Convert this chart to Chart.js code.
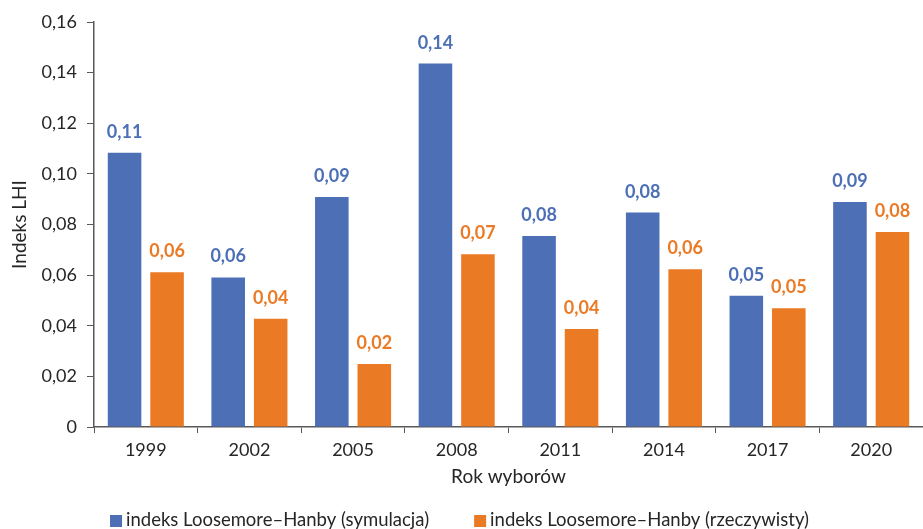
<!DOCTYPE html>
<html>
<head>
<meta charset="utf-8">
<script src="https://cdn.jsdelivr.net/npm/chart.js@4.4.0/dist/chart.umd.min.js"></script>
<style>
    html, body { margin: 0; padding: 0; background: #fff; overflow: hidden; }
    #wrap { width: 923px; height: 529px; }
</style>
</head>
<body>
<div id="wrap"><canvas id="lhiChart" width="923" height="529"></canvas></div>
<script>
// Data
const years = ['1999', '2002', '2005', '2008', '2011', '2014', '2017', '2020'];
const simulated = [0.1083, 0.0591, 0.0909, 0.1436, 0.0755, 0.0847, 0.0519, 0.0889];
const actual = [0.0611, 0.0428, 0.0249, 0.0682, 0.0387, 0.0623, 0.0469, 0.0770];
const yTicks = [0, 0.02, 0.04, 0.06, 0.08, 0.10, 0.12, 0.14, 0.16];
const seriesNames = ['indeks Loosemore\u2013Hanby (symulacja)', 'indeks Loosemore\u2013Hanby (rzeczywisty)'];

const BLUE = '#4c6fb5';
const ORANGE = '#eb7a25';
const TEXT = '#262626';
const AXIS = '#595959';
const FONT = 'Lato';

function fmt(v) {
    return v === 0 ? '0' : v.toFixed(2).replace('.', ',');
}

// Value labels above every bar
const valueLabels = {
    id: 'valueLabels',
    afterDatasetsDraw(chart) {
        const ctx = chart.ctx;
        ctx.save();
        ctx.font = 'bold 18px ' + FONT;
        ctx.textAlign = 'center';
        ctx.textBaseline = 'alphabetic';
        chart.data.datasets.forEach((ds, i) => {
            ctx.fillStyle = ds.backgroundColor;
            chart.getDatasetMeta(i).data.forEach((bar, j) => {
                ctx.fillText(fmt(ds.data[j]), bar.x, bar.y - 15);
            });
        });
        ctx.restore();
    }
};

// Legend drawn under the axis title, boxes close to the text
const bottomLegend = {
    id: 'bottomLegend',
    afterDraw(chart) {
        const ctx = chart.ctx;
        const box = 12, gapText = 4, gapItem = 45, y = 520;
        ctx.save();
        ctx.font = '18.5px ' + FONT;
        ctx.textBaseline = 'middle';
        ctx.textAlign = 'left';
        const widths = chart.data.datasets.map(ds => ctx.measureText(ds.label).width);
        let total = 0;
        widths.forEach((w, i) => { total += box + gapText + w + (i ? gapItem : 0); });
        let x = (chart.width - total) / 2 - 2;
        chart.data.datasets.forEach((ds, i) => {
            ctx.fillStyle = ds.backgroundColor;
            ctx.fillRect(x, y - box / 2 + 1, box, box);
            ctx.fillStyle = TEXT;
            ctx.fillText(ds.label, x + box + gapText, y);
            x += box + gapText + widths[i] + gapItem;
        });
        ctx.restore();
    }
};

Chart.defaults.font.family = FONT;
Chart.defaults.font.size = 18;
Chart.defaults.color = TEXT;

const ctx = document.getElementById('lhiChart').getContext('2d');
const lhiChart = new Chart(ctx, {
    type: 'bar',
    data: {
        labels: years,
        datasets: [{
            label: seriesNames[0],
            data: simulated,
            backgroundColor: BLUE,
            borderWidth: 0
        }, {
            label: seriesNames[1],
            data: actual,
            backgroundColor: ORANGE,
            borderWidth: 0
        }]
    },
    options: {
        responsive: false,
        animation: false,
        devicePixelRatio: 1,
        categoryPercentage: 0.82,
        barPercentage: 0.79,
        layout: { padding: { top: 22, right: 0, bottom: 0, left: 0 } },
        plugins: {
            legend: { display: false },
            tooltip: { enabled: false }
        },
        scales: {
            x: {
                grid: {
                    drawOnChartArea: false,
                    drawTicks: true,
                    tickLength: 6,
                    color: AXIS,
                    offset: true
                },
                border: { color: AXIS, width: 1.5 },
                ticks: { padding: 6, color: TEXT, font: { size: 18 } },
                title: {
                    display: true,
                    text: 'Rok wyborów',
                    color: TEXT,
                    font: { size: 19 },
                    padding: { top: 0, bottom: 41 }
                },
                afterFit(scale) { scale.height = 102; }
            },
            y: {
                min: 0,
                max: 0.16,
                afterBuildTicks(scale) { scale.ticks = yTicks.map(v => ({ value: v })); },
                grid: {
                    drawOnChartArea: false,
                    drawTicks: true,
                    tickLength: 7,
                    color: AXIS
                },
                border: { color: AXIS, width: 1.5 },
                ticks: {
                    padding: 10,
                    color: TEXT,
                    font: { size: 18 },
                    callback: v => fmt(v)
                },
                title: {
                    display: true,
                    text: 'Indeks LHI',
                    color: TEXT,
                    font: { size: 19 },
                    padding: { top: 8, bottom: 0 }
                },
                afterFit(scale) { scale.width = 94; }
            }
        }
    },
    plugins: [valueLabels, bottomLegend]
});
</script>
</body>
</html>
